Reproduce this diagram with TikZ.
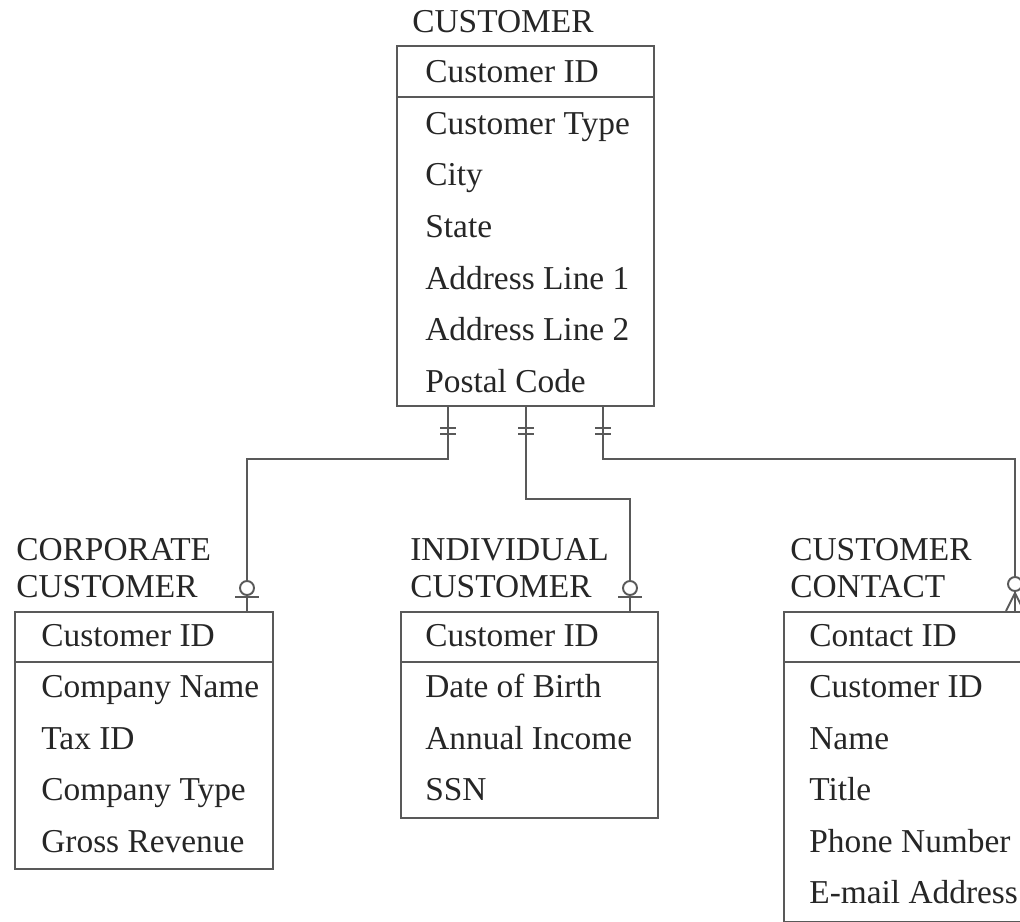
\documentclass[tikz,border=0pt]{standalone}
\usepackage{fontspec}
\setmainfont{Liberation Serif}
\newcommand{\erfont}{\fontsize{19}{23}\selectfont}
\tikzset{
    entity/.style={draw=black!65, line width=1.1pt, anchor=north west, inner sep=0pt, minimum width=5.14cm},
    attr/.style={anchor=base west, inner sep=0pt, font=\erfont, text=black!85},
    rel/.style={draw=black!65, line width=1.1pt},
}

\begin{document}
\begin{tikzpicture}[x=0.02cm, y=-0.02cm]
    \useasboundingbox (0,0) rectangle (1020,922);
    \clip (0,0) rectangle (1020,922);

    % entity boxes
    \node[entity, minimum height=7.2cm] (cust) at (396,45) {};
    \node[entity, minimum width=5.16cm, minimum height=5.14cm] (corp) at (14,611) {};
    \node[entity, minimum height=4.12cm] (indiv) at (400,611) {};
    \node[entity, minimum height=6.2cm] (cont) at (783,611) {};

    \draw[rel] (cust.west |- 0,97) -- (cust.east |- 0,97);
    \foreach \b in {corp, indiv, cont}
        \draw[rel] (\b.west |- 0,662) -- (\b.east |- 0,662);

    % names
    \node[attr] (custname) at (412,33) {CUSTOMER};
    \node[attr] (corpname) at (16,560) {CORPORATE};
    \node[attr] (corpname2) at (16,597) {CUSTOMER};
    \node[attr] (indivname) at (410,560) {INDIVIDUAL};
    \node[attr] (indivname2) at (410,597) {CUSTOMER};
    \node[attr] (contname) at (790,560) {CUSTOMER};
    \node[attr] (contname2) at (790,597) {CONTACT};

    % attributes
    \foreach \t [count=\i] in {Customer ID, Customer Type, City, State, Address Line 1, Address Line 2, Postal Code}
        \node[attr] (cust-\i) at (425, 31.5+51.5*\i) {\t};
    \foreach \t [count=\i] in {Customer ID, Company Name, Tax ID, Company Type, Gross Revenue}
        \node[attr] (corp-\i) at (41, 594.5+51.5*\i) {\t};
    \foreach \t [count=\i] in {Customer ID, Date of Birth, Annual Income, SSN}
        \node[attr] (indiv-\i) at (425, 594.5+51.5*\i) {\t};
    \foreach \t [count=\i] in {Contact ID, Customer ID, Name, Title, Phone Number, E-mail Address}
        \node[attr] (cont-\i) at (809, 594.5+51.5*\i) {\t};

    % relationships
    \draw[rel] (cust.south -| 448,0) -- ++(0,52) -| (corp.north -| 247,0);
    \draw[rel] (cust.south -| 526,0) -- ++(0,92) -| (indiv.north -| 630,0);
    \draw[rel] (cust.south -| 603,0) -- ++(0,52) -| (cont.north -| 1015,0);

    \foreach \x in {448,526,603}
        \draw[rel] (\x-8,428) -- (\x+8,428) (\x-8,434) -- (\x+8,434);
    \foreach \x in {247,630}{
        \draw[rel] (\x-12,597) -- (\x+12,597);
        \draw[rel, fill=white] (\x,588) circle (0.14cm);
    }
    \draw[rel, fill=white] (1015,584) circle (0.14cm);
    \draw[rel] (1006,611) -- (1015,593) -- (1024,611);
\end{tikzpicture}
\end{document}
